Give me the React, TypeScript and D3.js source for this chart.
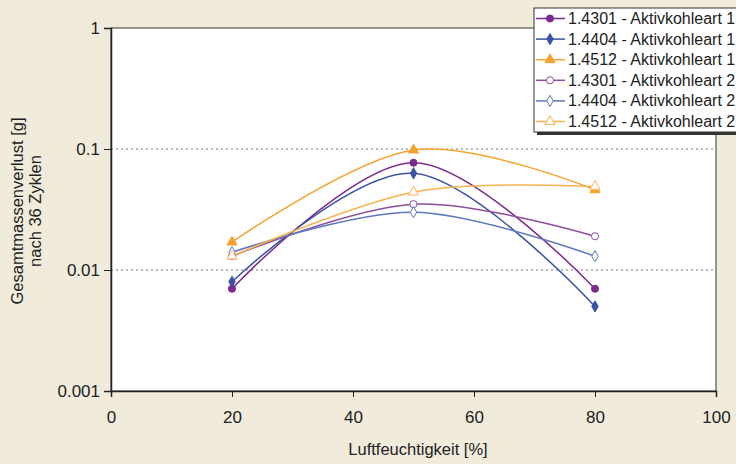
import React, { useEffect, useRef } from 'react';
import * as d3 from 'd3';

const humidity = [20, 50, 80];
const seriesNames = [
  '1.4301 - Aktivkohleart 1',
  '1.4404 - Aktivkohleart 1',
  '1.4512 - Aktivkohleart 1',
  '1.4301 - Aktivkohleart 2',
  '1.4404 - Aktivkohleart 2',
  '1.4512 - Aktivkohleart 2',
];
const s4301a = [0.007, 0.077, 0.007];
const s4404a = [0.008, 0.063, 0.005];
const s4512a = [0.017, 0.098, 0.046];
const s4301b = [0.013, 0.035, 0.019];
const s4404b = [0.014, 0.03, 0.013];
const s4512b = [0.013, 0.044, 0.049];
const seriesValues = [s4301a, s4404a, s4512a, s4301b, s4404b, s4512b];
const colors = ['#7d2b8c', '#3a52a3', '#f6a22e', '#8d4c9e', '#5d78bd', '#f8b250'];
const shapes = ['circle', 'diamond', 'triangle', 'circle', 'diamond', 'triangle'];
const hollow = [false, false, false, true, true, true];
const xTicks = [0, 20, 40, 60, 80, 100];
const yTicks = [0.001, 0.01, 0.1, 1];
const yTickLabels = ['0.001', '0.01', '0.1', '1'];

const App = () => {
  const ref = useRef<SVGSVGElement>(null);

  useEffect(() => {
    const svg = d3.select(ref.current);
    svg.selectAll('*').remove();
    const W = 736, H = 464;
    const left = 111, right = 716, top = 28, bottom = 391;
    const font = 'Liberation Sans, Arial, sans-serif';

    svg.append('rect').attr('width', W).attr('height', H).attr('fill', '#f1ebdc');

    const x = d3.scaleLinear().domain([0, 100]).range([left, right]);
    const y = d3.scaleLog().domain([0.001, 1]).range([bottom, top]);

    svg.append('rect')
      .attr('x', left).attr('y', top)
      .attr('width', right - left).attr('height', bottom - top)
      .attr('fill', '#fff').attr('stroke', '#333').attr('stroke-width', 1);

    // gridlines
    svg.selectAll('.grid').data([0.01, 0.1]).enter().append('line')
      .attr('x1', left).attr('x2', right)
      .attr('y1', (d) => y(d)).attr('y2', (d) => y(d))
      .attr('stroke', '#777').attr('stroke-dasharray', '2,3').attr('stroke-width', 1);

    // axes
    const xAxis = svg.append('g').attr('transform', `translate(0,${bottom})`)
      .call(d3.axisBottom(x).tickValues(xTicks).tickSize(6).tickPadding(14));
    const yAxis = svg.append('g').attr('transform', `translate(${left},0)`)
      .call(d3.axisLeft(y).tickValues(yTicks).tickSize(7).tickPadding(4)
        .tickFormat((_, i) => yTickLabels[i]));
    [xAxis, yAxis].forEach((g) => {
      g.select('.domain').attr('stroke', '#222').attr('stroke-width', 1.5);
      g.selectAll('.tick line').attr('stroke', '#222');
      g.selectAll('.tick text').attr('font-family', font).attr('font-size', 17).attr('fill', '#222');
    });

    const line = d3.line<number>()
      .x((_, i) => x(humidity[i]))
      .y((d) => y(d))
      .curve(d3.curveCatmullRom.alpha(0));

    const symbolOf = (s: string) =>
      s === 'circle' ? d3.symbolCircle : s === 'diamond' ? d3.symbolDiamond : d3.symbolTriangle;
    const sizeOf = (s: string) => (s === 'circle' ? 40 : s === 'diamond' ? 36 : 44);

    const drawMarker = (g: any, cx: number, cy: number, i: number) => {
      g.append('path')
        .attr('d', d3.symbol().type(symbolOf(shapes[i])).size(sizeOf(shapes[i]))())
        .attr('transform', `translate(${cx},${cy})`)
        .attr('fill', hollow[i] ? '#fff' : colors[i])
        .attr('stroke', colors[i])
        .attr('stroke-width', 1);
    };

    seriesValues.forEach((vals, i) => {
      svg.append('path').attr('d', line(vals))
        .attr('fill', 'none').attr('stroke', colors[i]).attr('stroke-width', 1.5);
    });
    seriesValues.forEach((vals, i) => {
      vals.forEach((v, j) => drawMarker(svg, x(humidity[j]), y(v), i));
    });

    // axis titles
    svg.append('text').attr('x', 418).attr('y', 455)
      .attr('text-anchor', 'middle').attr('font-family', font).attr('font-size', 16.5)
      .attr('fill', '#222').text('Luftfeuchtigkeit [%]');
    const yt = svg.append('text').attr('transform', 'translate(17,211) rotate(-90)')
      .attr('text-anchor', 'middle').attr('font-family', font).attr('font-size', 16.5).attr('fill', '#222');
    yt.append('tspan').attr('x', 0).attr('dy', 6).text('Gesamtmassenverlust [g]');
    yt.append('tspan').attr('x', 0).attr('dy', 18).text('nach 36 Zyklen');

    // legend
    const lg = svg.append('g').attr('transform', 'translate(534,8)');
    lg.append('rect').attr('x', 3).attr('y', 3).attr('width', 210).attr('height', 124).attr('fill', '#333');
    lg.append('rect').attr('width', 210).attr('height', 124)
      .attr('fill', '#fff').attr('stroke', '#333').attr('stroke-width', 1);
    seriesNames.forEach((name, i) => {
      const cy = 10.5 + i * 20.6;
      lg.append('line').attr('x1', 2).attr('x2', 31).attr('y1', cy).attr('y2', cy)
        .attr('stroke', colors[i]).attr('stroke-width', 1.5);
      drawMarker(lg, 16, cy, i);
      lg.append('text').attr('x', 34).attr('y', cy + 5.5)
        .attr('font-family', font).attr('font-size', 16).attr('fill', '#222').text(name);
    });
  }, []);

  return (
    <svg ref={ref} width={736} height={464} style={{ position: 'absolute', left: 0, top: 0 }} />
  );
};

export default App;
